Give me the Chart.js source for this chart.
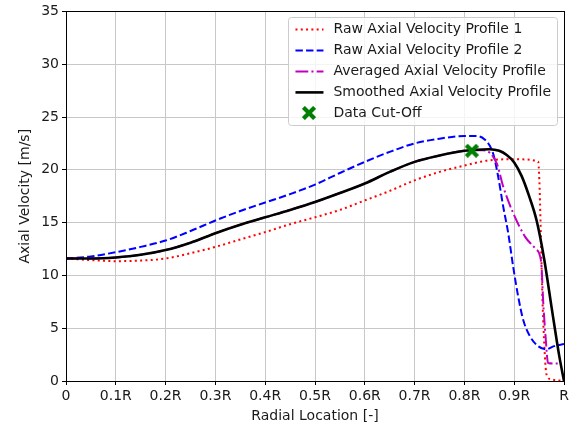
<!DOCTYPE html>
<html>
<head>
<meta charset="utf-8">
<script src="https://cdn.jsdelivr.net/npm/chart.js@4"></script>
<style>
    html, body { margin: 0; padding: 0; background: #ffffff; }
    #wrap { width: 579px; height: 430px; position: relative; }
</style>
</head>
<body>
<div id="wrap"><canvas id="chartVelocity"></canvas></div>
<script>
// radial positions (fraction of R) and axial velocities [m/s]
var rawOneR = [0, 0.05, 0.1, 0.15, 0.2, 0.25, 0.3, 0.35, 0.4, 0.45, 0.5, 0.55, 0.6, 0.65, 0.7, 0.75, 0.8, 0.85, 0.9, 0.948, 0.958, 0.965, 0.975, 0.99, 1.0];
var rawOneV = [11.6, 11.45, 11.35, 11.4, 11.6, 12.1, 12.7, 13.4, 14.1, 14.85, 15.5, 16.2, 17.1, 18.0, 19.0, 19.8, 20.4, 20.9, 21.0, 20.8, 6.0, 0.6, 0.15, 0.05, 0];

var rawTwoR = [0, 0.05, 0.1, 0.15, 0.2, 0.25, 0.3, 0.35, 0.4, 0.45, 0.5, 0.55, 0.6, 0.65, 0.7, 0.75, 0.8, 0.82, 0.84, 0.858, 0.868, 0.878, 0.888, 0.898, 0.908, 0.918, 0.932, 0.948, 0.964, 0.98, 1.0];
var rawTwoV = [11.6, 11.8, 12.2, 12.7, 13.3, 14.2, 15.2, 16.1, 16.9, 17.7, 18.6, 19.7, 20.75, 21.7, 22.5, 22.95, 23.2, 23.2, 22.9, 21.5, 19.3, 16.5, 14.0, 10.8, 8.0, 5.8, 4.2, 3.3, 3.0, 3.3, 3.5];

var averagedR = [0, 0.05, 0.1, 0.15, 0.2, 0.25, 0.3, 0.35, 0.4, 0.45, 0.5, 0.55, 0.6, 0.65, 0.7, 0.75, 0.8, 0.838, 0.865, 0.878, 0.898, 0.922, 0.942, 0.952, 0.955, 0.958, 0.963, 0.968, 0.98, 0.99];
var averagedV = [11.6, 11.6, 11.7, 11.95, 12.4, 13.1, 14.0, 14.8, 15.5, 16.2, 16.95, 17.8, 18.7, 19.8, 20.75, 21.35, 21.8, 21.85, 20.6, 18.4, 15.9, 13.65, 12.55, 11.8, 10.8, 7.7, 4.2, 1.7, 1.65, 1.65];

var smoothedR = [0, 0.05, 0.1, 0.15, 0.2, 0.25, 0.3, 0.35, 0.4, 0.45, 0.5, 0.55, 0.6, 0.65, 0.7, 0.75, 0.8, 0.85, 0.87, 0.885, 0.9, 0.915, 0.93, 0.945, 0.96, 0.975, 0.99, 1.0];
var smoothedV = [11.6, 11.6, 11.7, 11.95, 12.4, 13.1, 14.0, 14.8, 15.5, 16.2, 16.95, 17.8, 18.7, 19.8, 20.75, 21.35, 21.8, 21.95, 21.8, 21.4, 20.7, 19.4, 17.5, 15.2, 11.6, 7.0, 2.5, 0];

var cutOffR = [0.815];
var cutOffV = [21.8];

var xTickValues = [0, 0.1, 0.2, 0.3, 0.4, 0.5, 0.6, 0.7, 0.8, 0.9, 1.0];
var xTickLabels = ['0', '0.1R', '0.2R', '0.3R', '0.4R', '0.5R', '0.6R', '0.7R', '0.8R', '0.9R', 'R'];

function toPoints(xs, ys) {
    return xs.map(function(x, i) { return {x: x, y: ys[i]}; });
}

// filled "X" marker for the cut-off point
function makeCrossMarker(size, color) {
    var c = document.createElement('canvas');
    c.width = size; c.height = size;
    var g = c.getContext('2d');
    g.strokeStyle = color;
    g.lineWidth = size * 0.3;
    g.lineCap = 'butt';
    var a = size * 0.1, b = size - a;
    g.beginPath();
    g.moveTo(a, a); g.lineTo(b, b);
    g.moveTo(b, a); g.lineTo(a, b);
    g.stroke();
    return c;
}
var crossMarker = makeCrossMarker(14, '#008000');

var FONT = 'DejaVu Sans';
var FSIZE = 14;
var TEXT = '#1a1a1a';

// black frame on all four sides, over the lines
var frame = {
    id: 'frame',
    afterDatasetsDraw: function(chart) {
        var a = chart.chartArea, ctx = chart.ctx;
        ctx.save();
        ctx.strokeStyle = '#000';
        ctx.lineWidth = 1;
        ctx.strokeRect(Math.round(a.left) + 0.5, Math.round(a.top) + 0.5,
                       Math.round(a.right - a.left), Math.round(a.bottom - a.top));
        ctx.restore();
    }
};

// legend box in the upper right of the plot
var boxLegend = {
    id: 'boxLegend',
    afterDraw: function(chart) {
        var a = chart.chartArea, ctx = chart.ctx;
        var sets = chart.data.datasets;
        ctx.save();
        ctx.font = FSIZE + 'px "' + FONT + '"';
        var textW = 0;
        sets.forEach(function(ds) { textW = Math.max(textW, ctx.measureText(ds.label).width); });
        var rowH = 21, padL = 7, sampleW = 28, gap = 10, padR = 6;
        var w = padL + sampleW + gap + textW + padR;
        var h = rowH * sets.length + 3;
        var right = a.right - 7, top = a.top + 6, left = right - w;

        ctx.fillStyle = 'rgba(255,255,255,0.8)';
        ctx.strokeStyle = '#cccccc';
        ctx.lineWidth = 1;
        ctx.beginPath();
        ctx.roundRect(Math.round(left) + 0.5, Math.round(top) + 0.5, Math.round(w), Math.round(h), 3);
        ctx.fill();
        ctx.stroke();

        sets.forEach(function(ds, i) {
            var cy = top + 12 + i * rowH;
            var sx = left + padL;
            if (ds.showLine === false) {
                ctx.drawImage(crossMarker, Math.round(sx + sampleW / 2 - crossMarker.width / 2), Math.round(cy - crossMarker.height / 2));
            } else {
                ctx.beginPath();
                ctx.setLineDash(ds.borderDash || []);
                ctx.strokeStyle = ds.borderColor;
                ctx.lineWidth = ds.borderWidth;
                ctx.moveTo(sx, cy);
                ctx.lineTo(sx + sampleW, cy);
                ctx.stroke();
                ctx.setLineDash([]);
            }
            ctx.fillStyle = TEXT;
            ctx.textBaseline = 'middle';
            ctx.textAlign = 'left';
            ctx.fillText(ds.label, sx + sampleW + gap, cy);
        });
        ctx.restore();
    }
};

var chartData = {
    datasets: [{
        label: 'Raw Axial Velocity Profile 1',
        data: toPoints(rawOneR, rawOneV),
        borderColor: '#ff0000',
        borderWidth: 2,
        borderDash: [2, 3.3],
        order: 5,
        },{
        label: 'Raw Axial Velocity Profile 2',
        data: toPoints(rawTwoR, rawTwoV),
        borderColor: '#0000ff',
        borderWidth: 2,
        borderDash: [7.4, 3.2],
        order: 4,
        },{
        label: 'Averaged Axial Velocity Profile',
        data: toPoints(averagedR, averagedV),
        borderColor: '#bf00bf',
        borderWidth: 2,
        borderDash: [12.8, 3.2, 2, 3.2],
        order: 3,
        },{
        label: 'Smoothed Axial Velocity Profile',
        data: toPoints(smoothedR, smoothedV),
        borderColor: '#000000',
        borderWidth: 2.6,
        order: 2,
        },{
        label: 'Data Cut-Off',
        data: toPoints(cutOffR, cutOffV),
        showLine: false,
        pointStyle: crossMarker,
        pointRadius: 7,
        order: 1,
        }
    ]
};

var ctx = document.getElementById('chartVelocity');
var myVelocityChart = new Chart(ctx, {
    type: 'line',
    data: chartData,
    plugins: [frame, boxLegend],
    options: {
        responsive: true,
        maintainAspectRatio: false,
        animation: false,
        devicePixelRatio: 1,
        layout: {
            padding: {left: 0, top: 11, right: 15, bottom: 0}
        },
        elements: {
            line: { cubicInterpolationMode: 'monotone', fill: false },
            point: { radius: 0, hoverRadius: 0 }
        },
        plugins: {
            legend: { display: false },
            tooltip: { enabled: false },
            title: { display: false }
        },
        scales: {
            x: {
                type: 'linear',
                min: 0,
                max: 1,
                afterBuildTicks: function(scale) {
                    scale.ticks = xTickValues.map(function(v) { return {value: v}; });
                },
                afterFit: function(scale) { scale.height = 49; },
                ticks: {
                    autoSkip: false,
                    maxRotation: 0,
                    padding: 3,
                    color: TEXT,
                    font: {family: FONT, size: FSIZE},
                    callback: function(value, index) { return xTickLabels[index]; }
                },
                grid: { color: '#c8c8c8', lineWidth: 1, tickLength: 4, tickColor: '#000' },
                border: { display: false },
                title: {
                    display: true,
                    text: 'Radial Location [-]',
                    color: TEXT,
                    font: {family: FONT, size: FSIZE},
                    padding: {top: 0, bottom: 5}
                }
            },
            y: {
                type: 'linear',
                min: 0,
                max: 35,
                afterFit: function(scale) { scale.width = 66; },
                ticks: {
                    stepSize: 5,
                    padding: 3,
                    color: TEXT,
                    font: {family: FONT, size: FSIZE}
                },
                grid: { color: '#c8c8c8', lineWidth: 1, tickLength: 4, tickColor: '#000' },
                border: { display: false },
                title: {
                    display: true,
                    text: 'Axial Velocity [m/s]',
                    color: TEXT,
                    font: {family: FONT, size: FSIZE},
                    padding: {top: 17, bottom: 0}
                }
            }
        }
    }
});
</script>
</body>
</html>
